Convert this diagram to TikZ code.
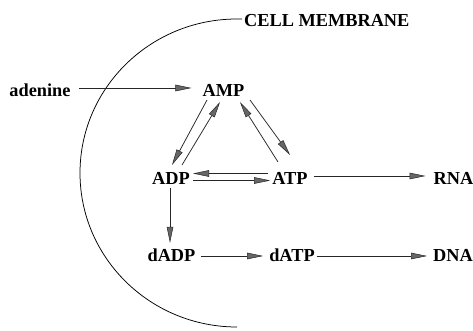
\documentclass[tikz,border=0pt]{standalone}
\usepackage{fontspec}
\setmainfont{Liberation Serif}
\usetikzlibrary{arrows.meta,calc}
\begin{document}
\begin{tikzpicture}[x=1pt,y=1pt,
  lbl/.style={inner sep=0pt, text height=16pt, text depth=0pt, anchor=base,
    font=\fontsize{18.3}{20}\selectfont\bfseries},
  conn/.style={line width=0.75pt, draw=black!85,
    -{Triangle[length=16pt,width=6.5pt,fill=black!60,line width=0.5pt]}},
  memb/.style={line width=0.75pt, draw=black}]
\useasboundingbox (0,0) rectangle (473,331);
% nodes
\node[lbl] (adenine) at (40,234) {adenine};
\node[lbl] (AMP) at (223.5,234) {AMP};
\node[lbl] (ADP) at (171,146) {ADP};
\node[lbl] (ATP) at (290,146) {ATP};
\node[lbl,anchor=base west] (RNA) at (433.5,146) {RNA};
\node[lbl] (dADP) at (171.5,69) {dADP};
\node[lbl] (dATP) at (292,69) {dATP};
\node[lbl,anchor=base west] (DNA) at (433,69) {DNA};
\node[lbl,anchor=base west] (mem) at (244,304) {CELL MEMBRANE};
% membrane
\draw[memb] ([xshift=-2pt]mem.west) -- ++(-5,0)
  arc[start angle=90,end angle=270,x radius=157,y radius=154];
% connectors
\draw[conn,shorten <=8pt,shorten >=11pt] ([yshift=1pt]adenine.east) -- ([yshift=1pt]AMP.west);
\draw[conn] ($(AMP.base)+(-16.5,-3)$) -- ($(ADP.base)+(1,20)$);
\draw[conn] ($(ADP.base)+(11,20)$) -- ($(AMP.base)+(-3.5,-5)$);
\draw[conn] ($(ATP.base)+(-12,23)$) -- ($(AMP.base)+(16.5,-5)$);
\draw[conn] ($(AMP.base)+(26.5,-3)$) -- ($(ATP.base)+(0,30)$);
\draw[conn,shorten <=4pt,shorten >=3pt] ([yshift=3.5pt]ATP.west) -- ([yshift=3.5pt]ADP.east);
\draw[conn,shorten <=3pt,shorten >=2pt] ([yshift=-3.5pt]ADP.east) -- ([yshift=-3.5pt]ATP.west);
\draw[conn,shorten <=6pt,shorten >=8pt] ([yshift=1pt]ATP.east) -- ([yshift=1pt]RNA.west);
\draw[conn,shorten <=3pt,shorten >=3pt] ([xshift=-1pt]ADP.south) -- ([xshift=-1.5pt]dADP.north);
\draw[conn,shorten <=5pt,shorten >=6pt] ([yshift=-2pt]dADP.east) -- ([yshift=-2pt]dATP.west);
\draw[conn,shorten <=2pt,shorten >=6pt] ([yshift=-2pt]dATP.east) -- ([yshift=-2pt]DNA.west);
\end{tikzpicture}
\end{document}
